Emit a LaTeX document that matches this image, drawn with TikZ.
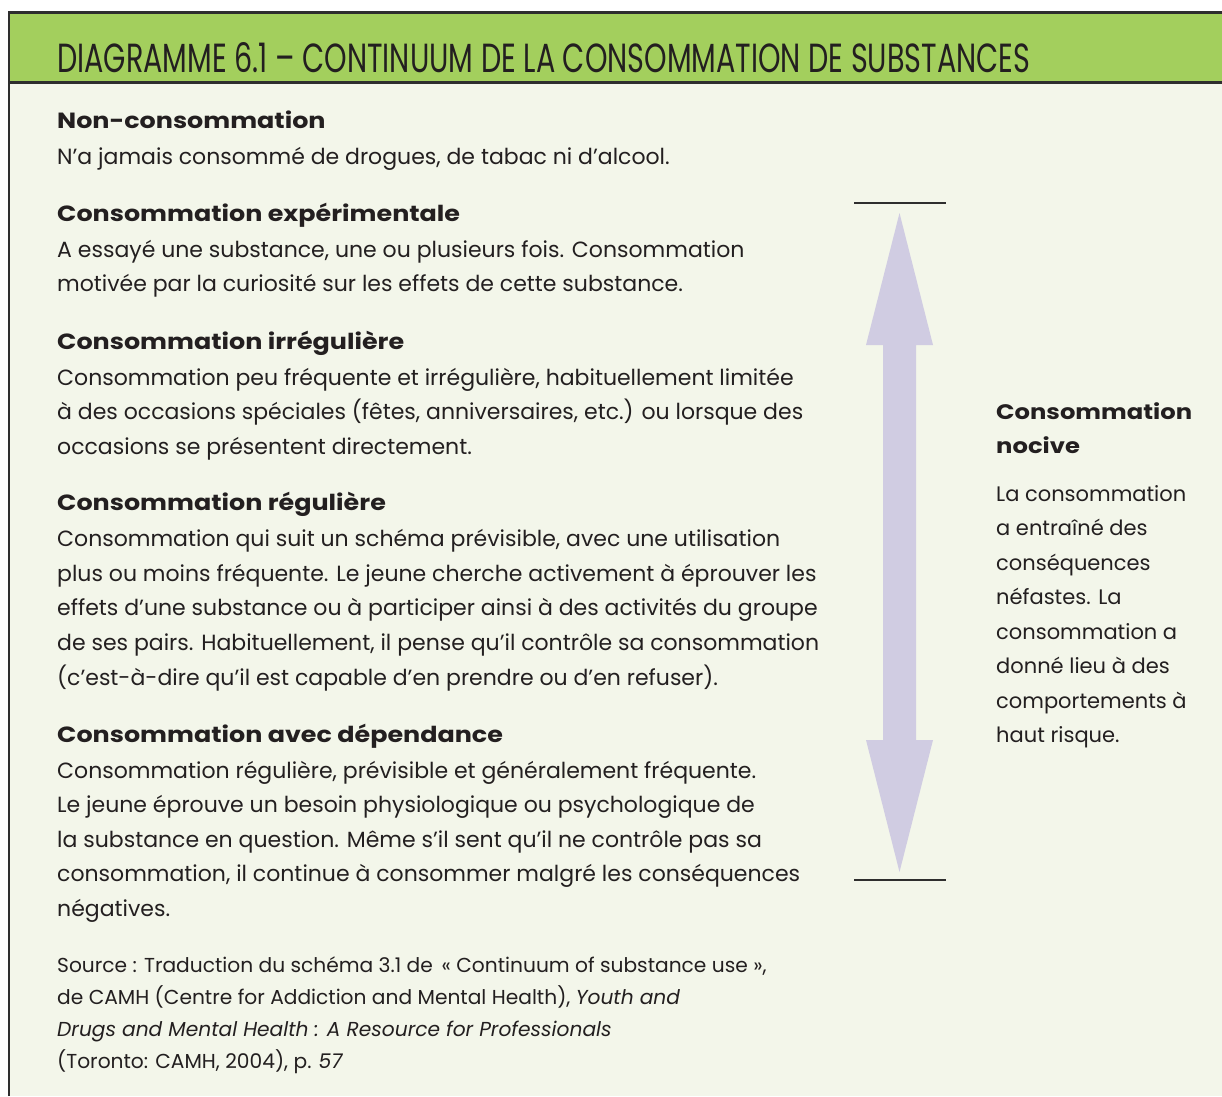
\documentclass[tikz,border=0pt]{standalone}
\usepackage{fontspec}
\setmainfont{Poppins}
\newfontfamily\titlefont{Poppins}
\definecolor{hdrgreen}{HTML}{A3CF5D}
\definecolor{bodybg}{HTML}{F3F6EA}
\definecolor{framecol}{HTML}{2E2E2E}
\definecolor{txt}{HTML}{231F20}
\definecolor{arrowcol}{HTML}{D0CCE2}
\newcommand{\hd}[1]{\scalebox{1.155}[1]{\textbf{#1}}}
\newcommand{\blk}[2]{\parbox[t]{#1}{\raggedright #2}}
\tikzset{
  blocktext/.style={anchor=base west, inner sep=0pt, text=txt,
    font=\fontsize{22}{34.6}\selectfont},
  srctext/.style={anchor=base west, inner sep=0pt, text=txt,
    font=\fontsize{20.2}{32}\selectfont},
  sidetext/.style={anchor=base west, inner sep=0pt, text=txt,
    font=\fontsize{21}{34.5}\selectfont},
  limitline/.style={draw=framecol, line width=2pt},
  frameline/.style={draw=framecol, line width=2.5pt}
}
\begin{document}
\begin{tikzpicture}[x=1pt,y=-1pt]
\useasboundingbox (0,0) rectangle (1222,1096);
\fill[white] (0,0) rectangle (1222,1096);
\fill[bodybg] (9,83) rectangle (1222,1096);
\fill[hdrgreen] (9,13) rectangle (1222,82);
\draw[frameline] (9,1096) -- (9,12.5) -- (1222,12.5);
\draw[frameline] (9,82.5) -- (1222,82.5);

\node[anchor=base west, inner sep=0pt, text=txt] (title) at (57,72)
  {\resizebox{973pt}{30pt}{\titlefont DIAGRAMME 6.1 – CONTINUUM DE LA CONSOMMATION DE SUBSTANCES}};

\node[blocktext] (b1) at (57,128) {\blk{850pt}{\hd{Non-consommation}\\[1.5pt]
N’a jamais consommé de drogues, de tabac ni d’alcool.}};

\node[blocktext] (b2) at (57,221) {\blk{850pt}{\hd{Consommation expérimentale}\\[1.5pt]
A essayé une substance, une ou plusieurs fois. Consommation\\
motivée par la curiosité sur les effets de cette substance.}};

\node[blocktext] (b3) at (57,349) {\blk{850pt}{\hd{Consommation irrégulière}\\[1.5pt]
Consommation peu fréquente et irrégulière, habituellement limitée\\
à des occasions spéciales (fêtes, anniversaires, etc.) ou lorsque des\\
occasions se présentent directement.}};

\node[blocktext] (b4) at (57,510) {\blk{850pt}{\hd{Consommation régulière}\\[2pt]
Consommation qui suit un schéma prévisible, avec une utilisation\\
plus ou moins fréquente. Le jeune cherche activement à éprouver les\\
effets d’une substance ou à participer ainsi à des activités du groupe\\
de ses pairs. Habituellement, il pense qu’il contrôle sa consommation\\
(c’est-à-dire qu’il est capable d’en prendre ou d’en refuser).}};

\node[blocktext] (b5) at (57,742) {\blk{850pt}{\hd{Consommation avec dépendance}\\[1.5pt]
Consommation régulière, prévisible et généralement fréquente.\\
Le jeune éprouve un besoin physiologique ou psychologique de\\
la substance en question. Même s’il sent qu’il ne contrôle pas sa\\
consommation, il continue à consommer malgré les conséquences\\
négatives.}};

\node[srctext] (src) at (57,972) {\blk{850pt}{Source : Traduction du schéma 3.1 de \,« Continuum of substance use »,\\
de CAMH (Centre for Addiction and Mental Health), \textit{Youth and}\\
\textit{Drugs and Mental Health : A Resource for Professionals}\\
(Toronto: CAMH, 2004), p. \textit{57}}};

\node[sidetext] (nocive) at (996,419) {\blk{220pt}{\hd{Consommation}\\\hd{nocive}}};
\node[sidetext] (nocdesc) at (996,501) {\blk{220pt}{La consommation\\
a entraîné des\\
conséquences\\
néfastes. La\\
consommation a\\
donné lieu à des\\
comportements à\\
haut risque.}};

\coordinate (topL) at (854,203);
\coordinate (topR) at (946,203);
\coordinate (botL) at (854,880);
\coordinate (botR) at (946,880);
\draw[limitline] (topL) -- (topR);
\draw[limitline] (botL) -- (botR);

\fill[arrowcol] (899.5,213) -- (933,345) -- (916,345) -- (916,740) -- (933,740)
  -- (899.5,872) -- (866,740) -- (883,740) -- (883,345) -- (866,345) -- cycle;
\end{tikzpicture}
\end{document}
